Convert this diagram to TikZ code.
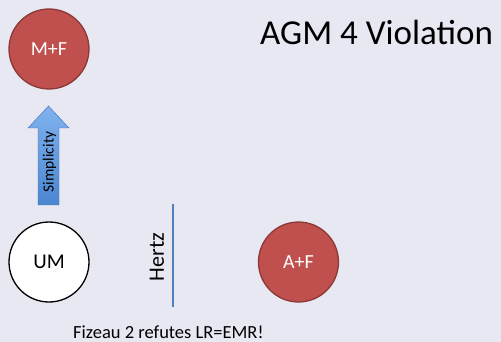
\documentclass[tikz,border=0pt]{standalone}
\usepackage{fontspec}
\setmainfont{Carlito}
\definecolor{bgc}{HTML}{E8E8F3}
\definecolor{redfill}{HTML}{C0504D}
\definecolor{redline}{HTML}{8C3836}
\definecolor{bluel}{HTML}{4F81BD}
\definecolor{arrtop}{HTML}{80B2EE}
\definecolor{arrbot}{HTML}{4A86D0}
\definecolor{arrline}{HTML}{3D6FB0}
\begin{document}
\begin{tikzpicture}[x=1pt,y=-1pt,
  redcirc/.style={circle,draw=redline,line width=1.3pt,fill=redfill,minimum size=80pt,inner sep=0pt,text=white,font=\fontsize{20}{24}\selectfont},
  whitecirc/.style={circle,draw=black,line width=1.3pt,fill=white,minimum size=80pt,inner sep=0pt,font=\fontsize{21}{25}\selectfont}]
\fill[bgc] (0,0) rectangle (501,342);
\useasboundingbox (0,0) rectangle (501,342);
\node[redcirc] (mf) at (49,49) {M+F};
\node[whitecirc] (um) at (49,262) {UM};
\node[redcirc] (af) at (298.5,262) {A+F};
\shade[top color=arrtop,bottom color=arrbot,draw=arrline,line width=0.4pt]
  (38,205) -- (38,128) -- (28,128) -- (48.5,106) -- (69,128) -- (59,128) -- (59,205) -- cycle;
\node[rotate=90,font=\fontsize{15.5}{18}\selectfont,inner sep=0pt] (simp) at (49.5,162) {Simplicity};
\coordinate (htop) at (173,204);
\coordinate (hbot) at (173,307);
\draw[bluel,line width=2pt] (htop) -- (hbot);
\node[rotate=90,font=\fontsize{22}{26}\selectfont,inner sep=0pt] (hertz) at (157,257) {Hertz};
\node[anchor=base west,font=\fontsize{35}{40}\selectfont,inner sep=0pt] (title) at (260,45) {AGM 4 Violation};
\node[anchor=base west,font=\fontsize{18.5}{22}\selectfont,inner sep=0pt] (foot) at (73,338.5) {Fizeau 2 refutes LR=EMR!};
\end{tikzpicture}
\end{document}
